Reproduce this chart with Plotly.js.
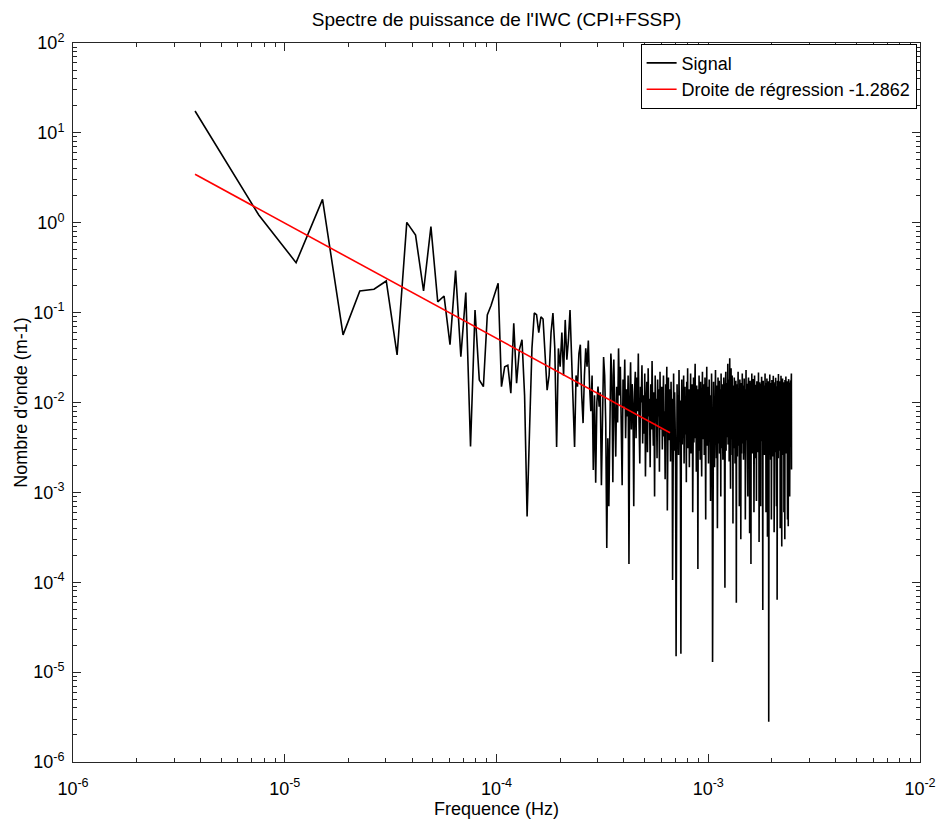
<!DOCTYPE html>
<html>
<head>
<meta charset="utf-8">
<script src="https://cdn.plot.ly/plotly-3.0.1.min.js"></script>
<style>html,body{margin:0;padding:0;background:#fff;}#chart{width:937px;height:823px;}</style>
</head>
<body>
<div id="chart"></div>
<script>
// frequency step of the spectrum (Hz)
const freqStep = 3.77e-6;

// power spectrum values (one per frequency bin)
const signal = [
17.5,1.22,0.36,1.82,0.0565,0.174,0.182,0.225,0.0338,1.01,
0.73,0.174,0.906,0.132,0.153,0.044,0.293,0.0324,0.167,0.00324,
0.107,0.0178,0.015,0.094,0.12,0.16,0.212,0.015,0.025,0.026,
0.0127,0.076,0.0164,0.0385,0.05,0.012,0.00054,0.005,0.04,0.099,
0.095,0.06,0.09,0.085,0.03,0.0137,0.02,0.06,0.099,0.04,
0.0032,0.04,0.025,0.06,0.02,0.083,0.03,0.05,0.107,0.03,
0.012,0.0032,0.02,0.015,0.035,0.044,0.012,0.0059,0.02,0.04,
0.025,0.049,0.015,0.008,0.02,0.00178,0.012,0.00128,0.01,0.015,
0.009,0.013,0.0012,0.01,0.032,0.02,0.006,0.00024,0.004,0.0007,
0.015,0.035,0.02,0.0013,0.03,0.01,0.0025,0.015,0.006,0.04,
0.012,0.025,0.006,0.0012,0.018,0.009,0.03,0.004,0.014,0.007,
0.02,0.00016,0.011,0.028,0.005,0.016,0.009,0.0007,0.013,0.022,
0.004,0.019,0.008,0.035,0.006,0.0021,0.015,0.01,0.026,0.0035,
0.012,0.0045,0.021,0.0015,0.009,0.017,0.0028,0.024,0.007,0.011,
0.0019,0.016,0.005,0.029,0.008,0.0033,0.013,0.0009,0.02,0.006,
0.011,0.0024,0.018,0.007,0.014,0.0017,0.022,0.005,0.0095,0.015,
0.003,0.012,0.02,0.0042,0.008,0.0014,0.016,0.0065,0.025,0.00063,
0.01,0.019,0.0038,0.007,0.014,0.0022,0.017,0.0055,0.011,0.000106,
0.008,0.021,0.0029,0.013,0.006,0.0018,0.000015,0.009,0.016,0.0041,
0.012,0.0026,0.023,0.005,0.0105,0.0016,0.000016,0.008,0.018,0.0034,
0.013,0.006,0.02,0.0021,0.0095,0.015,0.0044,0.011,0.0013,0.017,
0.0057,0.024,0.0031,0.0085,0.014,0.0019,0.012,0.0068,0.021,0.0027,
0.01,0.0048,0.016,0.0006,0.0075,0.019,0.0036,0.013,0.0062,0.027,
0.004,0.011,0.0017,0.0155,0.0052,0.009,0.00014,0.014,0.0029,0.02,
0.0065,0.0105,0.0023,0.017,0.0047,0.0125,0.0015,0.0088,0.022,0.0039,
0.011,0.0058,0.016,0.0026,0.0092,0.019,0.0043,0.0005,0.0135,0.007,
0.025,0.0033,0.01,0.0054,0.015,0.0021,0.0082,0.018,0.0037,0.012,
0.006,0.0008,0.014,0.0045,0.021,0.0074,0.0028,0.000013,0.011,0.0052,
0.017,0.0032,0.0095,0.0019,0.013,0.0066,0.023,0.004,0.0105,0.0024,
0.0155,0.0051,0.0004,0.0085,0.019,0.0035,0.012,0.0063,0.0175,0.0027,
0.009,0.0044,0.014,0.0009,0.021,0.0058,0.011,0.0031,0.016,0.0072,
0.0023,0.0125,0.0047,0.019,0.0036,0.0098,0.0006,0.000087,0.0135,0.0061,
0.022,0.0029,0.0105,0.0053,0.0165,0.0041,0.0088,0.027,0.0034,0.012,
0.0069,0.018,0.0022,0.0095,0.031,0.0048,0.0145,0.0011,0.0078,0.024,
0.0039,0.011,0.0057,0.02,0.0026,0.0092,0.00045,0.0155,0.0064,0.0115,
0.0031,0.019,0.0046,0.0085,0.0021,0.0135,0.0055,0.0175,0.0037,0.000059,
0.0105,0.0068,0.016,0.0025,0.009,0.0043,0.022,0.0033,0.0125,0.0059,
0.0145,0.0007,0.0082,0.018,0.0039,0.0112,0.0052,0.0003,0.0165,0.0071,
0.0027,0.013,0.0049,0.021,0.0035,0.0098,0.0062,0.0155,0.0023,0.0108,
0.0044,0.0185,0.0029,0.0088,0.0056,0.014,0.0005,0.0115,0.0067,0.023,
0.0038,0.0095,0.0051,0.0162,0.0026,0.0125,0.0072,0.0009,0.0148,0.0045,
0.019,0.0033,0.0102,0.0058,0.0135,0.00035,0.0082,0.0175,0.0041,0.011,
0.0063,0.00016,0.0155,0.0036,0.0092,0.021,0.0048,0.0118,0.0027,0.0145,
0.0069,0.0183,0.0031,0.0105,0.0053,0.0006,0.0132,0.0078,0.02,0.0039,
0.0112,0.0024,0.0158,0.0061,0.0095,0.0044,0.0138,0.0008,0.0085,0.0172,
0.0034,0.0121,0.0057,0.0149,0.0028,0.0098,0.0066,0.0215,0.0042,0.0108,
0.00028,0.0135,0.0052,0.0168,0.0032,0.0089,0.0074,0.0125,0.0007,0.0162,
0.0047,0.0102,0.0059,0.0193,0.0037,0.0116,0.0004,0.0142,0.0064,0.000049,
0.0085,0.0175,0.0029,0.0128,0.0055,0.0155,0.0041,0.0092,0.0026,0.0138,
0.0068,0.021,0.0035,0.0112,0.0049,0.0165,0.0006,0.0098,0.0075,0.0132,
0.0031,0.0185,0.0057,0.0105,0.00032,0.0148,0.0045,0.0122,0.0062,0.0172,
0.0027,0.0000028,0.0095,0.0158,0.0038,0.0118,0.0053,0.0205,0.0033,0.0108,
0.0069,0.0142,0.0023,0.0165,0.0046,0.0092,0.0005,0.0128,0.0059,0.0178,
0.0036,0.0115,0.0072,0.0152,0.0025,0.0102,0.0048,0.0198,0.0039,0.0125,
0.0061,0.0168,0.00036,0.0135,0.0054,0.0088,0.0032,0.0162,0.0066,0.0112,
0.0043,0.0188,0.0028,0.0138,0.0057,0.0105,0.0007,0.0152,0.0071,0.0123,
0.000064,0.0098,0.0175,0.0034,0.0119,0.0052,0.0145,0.0024,0.0208,0.0045,
0.0108,0.0067,0.0158,0.0029,0.0128,0.0056,0.0092,0.0038,0.0172,0.0004,
0.0115,0.0063,0.0142,0.0041,0.0198,0.0033,0.0102,0.0074,0.0135,0.00025,
0.0162,0.0049,0.0118,0.0058,0.0185,0.0026,0.0095,0.0069,0.0148,0.0036,
0.0125,0.0052,0.0168,0.0006,0.0108,0.0064,0.0155,0.0039,0.0132,0.0003,
0.0178,0.0046,0.0098,0.0072,0.0142,0.0031,0.0195,0.0055,0.0115,0.0027,
0.0158,0.0061,0.0105,0.0037,0.0172,0.0048,0.0125,0.0005,0.0148,0.0068,
0.0092,0.0034,0.00042,0.0135,0.0057,0.0182,0.0029,0.0112,0.0075,0.0165,
0.0043,0.0138,0.0009,0.0102,0.0066,0.0155,0.0038,0.0122,0.0051,0.0175,
0.0032,0.0118,0.0069,0.0145,0.021,0.0018
];
const signalFreq = signal.map((v, i) => (i + 1) * freqStep);

// regression line end points
const regFreq = [3.77e-6, 6.6e-4];
const regValue = [3.46, 0.0046];

const seriesNames = ['Signal', 'Droite de régression -1.2862'];

// decade exponents for the tick labels
const xExponents = [-6, -5, -4, -3, -2];
const yExponents = [-6, -5, -4, -3, -2, -1, 0, 1, 2];

function decadeTicks(exps) {
  return {
    vals: exps.map(e => Math.pow(10, e)),
    text: exps.map(e => '10<sup>' + e + '</sup>')
  };
}
const xT = decadeTicks(xExponents), yT = decadeTicks(yExponents);

const font = 'Liberation Sans, Arial, sans-serif';

const traces = [
  {x: signalFreq, y: signal, type: 'scatter', mode: 'lines', name: seriesNames[0],
   line: {color: '#000000', width: 1.6}},
  {x: regFreq, y: regValue, type: 'scatter', mode: 'lines', name: seriesNames[1],
   line: {color: '#ff0000', width: 1.6}}
];

function axis(T, rng) {
  return {
    type: 'log', range: rng, showgrid: false, zeroline: false,
    showline: true, linecolor: '#262626', linewidth: 1, mirror: 'ticks',
    ticks: 'inside', ticklen: 8, tickcolor: '#262626', tickwidth: 1,
    tickmode: 'array', tickvals: T.vals, ticktext: T.text,
    tickfont: {family: font, size: 18, color: '#000'},
    minor: {dtick: 'D1', ticks: 'inside', ticklen: 4,
            tickcolor: '#262626', tickwidth: 1, showgrid: false}
  };
}

const layout = {
  width: 937, height: 823,
  margin: {l: 73, r: 17, t: 43, b: 61},
  paper_bgcolor: '#ffffff', plot_bgcolor: '#ffffff',
  font: {family: font, size: 18, color: '#000'},
  title: {text: "Spectre de puissance de l'IWC (CPI+FSSP)", font: {family: font, size: 19, color: '#000'},
          xref: 'paper', x: 0.5, xanchor: 'center', yref: 'container', y: 0.977, yanchor: 'middle'},
  xaxis: Object.assign(axis(xT, [-6, -2]), {
    ticklabelstandoff: 10,
    title: {text: 'Frequence (Hz)', font: {family: font, size: 18, color: '#000'}, standoff: 4}
  }),
  yaxis: Object.assign(axis(yT, [-6, 2]), {
    ticklabelstandoff: 4,
    title: {text: "Nombre d'onde (m-1)", font: {family: font, size: 18, color: '#000'}, standoff: 0}
  }),
  showlegend: true,
  legend: {x: 0.996, xanchor: 'right', y: 0.999, yanchor: 'top',
           bgcolor: '#ffffff', bordercolor: '#000', borderwidth: 1,
           font: {family: font, size: 18, color: '#000'}, tracegroupgap: 0}
};

Plotly.newPlot('chart', traces, layout, {displayModeBar: false, staticPlot: true});
</script>
</body>
</html>
